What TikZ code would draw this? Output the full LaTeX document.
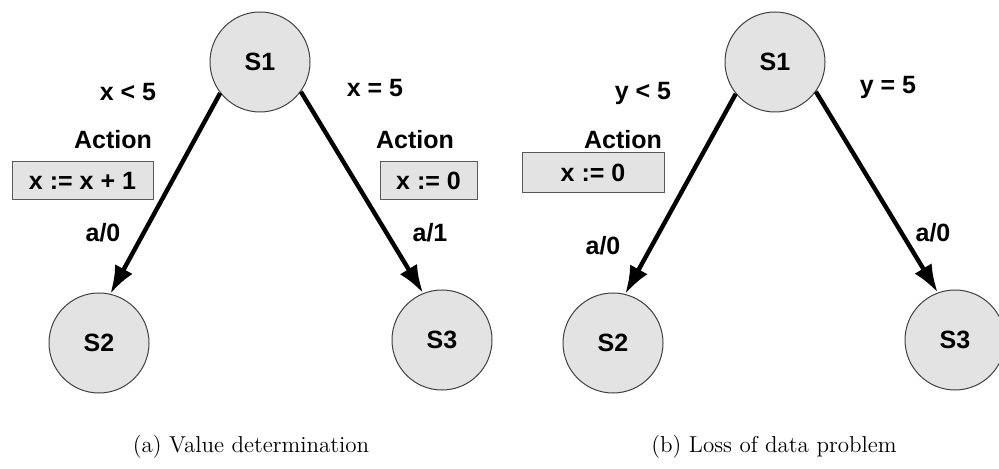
\documentclass[tikz,border=0pt]{standalone}
\usepackage{fontspec}
\newfontfamily\helv{Liberation Sans}
\usetikzlibrary{arrows.meta}

\tikzset{
	state/.style={circle, draw=black!75, line width=0.5pt, fill=black!11, minimum size=50pt, inner sep=0pt, font=\helv\bfseries\fontsize{12.5}{14}\selectfont},
	actbox/.style={rectangle, draw=black!65, line width=0.5pt, fill=black!11, minimum height=19pt, inner sep=0pt, font=\helv\bfseries\fontsize{12.5}{14}\selectfont},
	guard/.style={inner sep=0pt, font=\helv\bfseries\fontsize{12.5}{14}\selectfont},
	trans/.style={line width=2.2pt, -{Latex[length=14pt,width=10pt]}},
	caption/.style={inner sep=0pt, font=\fontsize{11.5}{13}\selectfont}
}

\begin{document}
\begin{tikzpicture}[x=0.5pt, y=-0.5pt]
			%%%%% START %%%%%
			\useasboundingbox (0, 0) rectangle (999, 469);
			
			%% (a) value determination
			\node[state] (s1a) at (260, 62) {S1};
			\node[state] (s2a) at (99, 343) {S2};
			\node[state] (s3a) at (442, 340) {S3};
			
			\draw[trans] (s1a.218) -- (s2a.77);
			\draw[trans] (s1a.324) -- (s3a.112);
			
			\node[guard] (ga1) at (128, 92) {x < 5};
			\node[guard] (ga2) at (375, 88) {x = 5};
			\node[guard] (acta1) at (113, 140) {Action};
			\node[guard] (acta2) at (415, 140) {Action};
			\node[actbox, minimum width=70.5pt] (boxa1) at (82.5, 181) {x := x + 1};
			\node[actbox, minimum width=48.5pt] (boxa2) at (428.5, 181) {x := 0};
			\node[guard] (outa1) at (103, 233) {a/0};
			\node[guard] (outa2) at (430, 233) {a/1};
			
			\node[caption] (capa) at (251, 447) {(a) Value determination};
			
			%% (b) loss of data problem
			\node[state] (s1b) at (775, 62) {S1};
			\node[state] (s2b) at (613, 343) {S2};
			\node[state] (s3b) at (955, 340) {S3};
			
			\draw[trans] (s1b.219) -- (s2b.76);
			\draw[trans] (s1b.324) -- (s3b.110);
			
			\node[guard] (gb1) at (643, 93) {y < 5};
			\node[guard] (gb2) at (888, 88) {y = 5};
			\node[guard] (actb1) at (623, 140) {Action};
			\node[actbox, minimum width=71pt, minimum height=20pt] (boxb1) at (593, 173) {x := 0};
			\node[guard] (outb1) at (603, 246) {a/0};
			\node[guard] (outb2) at (933, 233) {a/0};
			
			\node[caption] (capb) at (774, 447) {(b) Loss of data problem};
			%%%%% END %%%%%
\end{tikzpicture}
\end{document}
